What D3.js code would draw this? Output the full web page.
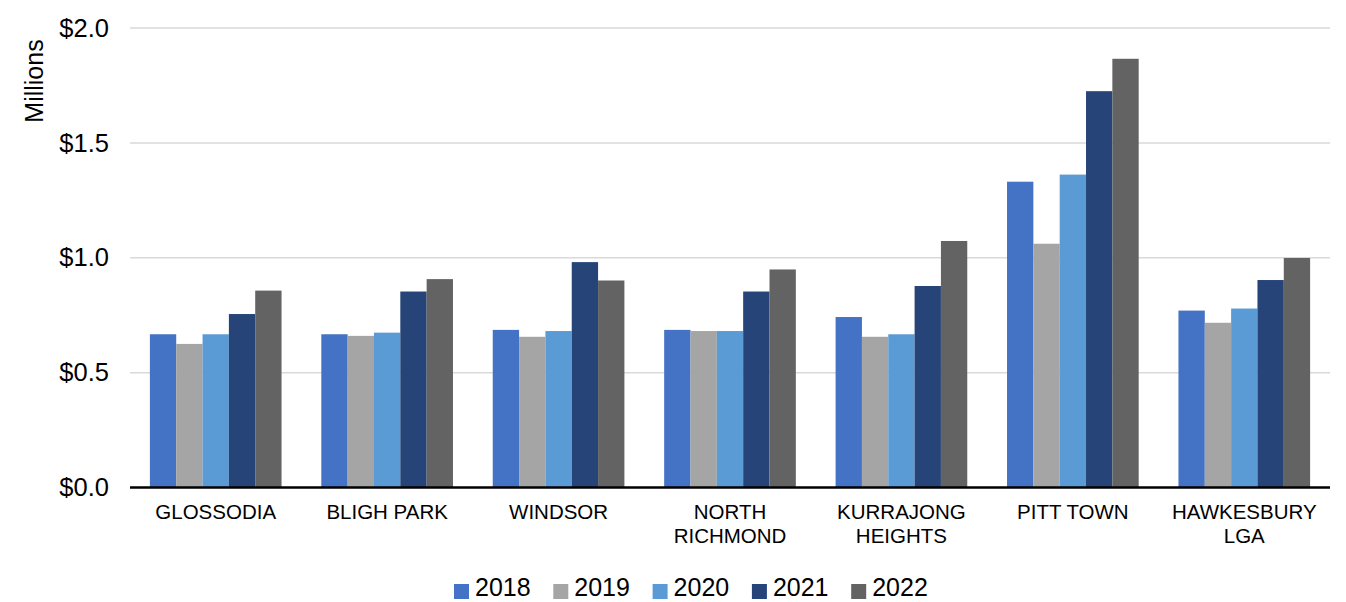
<!DOCTYPE html>
<html>
<head>
<meta charset="utf-8">
<script src="https://cdn.jsdelivr.net/npm/d3@7"></script>
<style>
  body { margin: 0; background: #fff; }
  svg { display: block; font-family: "Liberation Sans", Arial, sans-serif; }
</style>
</head>
<body>
<svg id="chart"></svg>
<script>
// suburbs along the x axis (lines split where the label wraps)
const suburbs = ["GLOSSODIA", "BLIGH PARK", "WINDSOR", "NORTH RICHMOND", "KURRAJONG HEIGHTS", "PITT TOWN", "HAWKESBURY LGA"];
const suburbLines = [["GLOSSODIA"], ["BLIGH PARK"], ["WINDSOR"], ["NORTH", "RICHMOND"], ["KURRAJONG", "HEIGHTS"], ["PITT TOWN"], ["HAWKESBURY", "LGA"]];
const years = ["2018", "2019", "2020", "2021", "2022"];

// median values in $ millions, one array per year
const v2018 = [0.667, 0.667, 0.686, 0.686, 0.742, 1.331, 0.770];
const v2019 = [0.625, 0.660, 0.656, 0.681, 0.656, 1.061, 0.717];
const v2020 = [0.667, 0.674, 0.681, 0.681, 0.667, 1.362, 0.779];
const v2021 = [0.755, 0.853, 0.981, 0.853, 0.877, 1.725, 0.903];
const v2022 = [0.857, 0.907, 0.901, 0.949, 1.073, 1.866, 0.999];

const yTicks = [0, 0.5, 1.0, 1.5, 2.0];
const colors = ["#4472C4", "#A5A5A5", "#5B9BD5", "#264478", "#636363"];

const series = [v2018, v2019, v2020, v2021, v2022];
const data = suburbs.map((s, i) => ({ name: s, lines: suburbLines[i], values: series.map(a => a[i]) }));

const width = 1346, height = 602;
const margin = { top: 28, right: 16, bottom: 115, left: 130 };

const svg = d3.select("#chart").attr("width", width).attr("height", height);

const x0 = d3.scaleBand()
  .domain(suburbs)
  .range([margin.left, width - margin.right])
  .paddingInner(0.232)
  .paddingOuter(0.116);

const x1 = d3.scaleBand()
  .domain(years)
  .range([0, x0.bandwidth()]);

const y = d3.scaleLinear()
  .domain([0, 2])
  .range([height - margin.bottom + 0.5, margin.top]);

// gridlines
svg.append("g")
  .selectAll("line")
  .data(yTicks.filter(d => d > 0))
  .join("line")
  .attr("x1", margin.left)
  .attr("x2", width - margin.right)
  .attr("y1", d => y(d))
  .attr("y2", d => y(d))
  .attr("stroke", "#d9d9d9")
  .attr("stroke-width", 1.5);

// y axis labels
const yAxis = d3.axisLeft(y).tickValues(yTicks).tickFormat(d => "$" + d3.format(".1f")(d)).tickSize(0).tickPadding(21);
svg.append("g")
  .attr("transform", `translate(${margin.left},0)`)
  .call(yAxis)
  .call(g => g.select(".domain").remove())
  .call(g => g.selectAll("text").attr("font-size", 25.5).attr("fill", "#000").attr("font-family", "Liberation Sans, Arial, sans-serif"));

svg.append("text")
  .attr("transform", `translate(43,81) rotate(-90)`)
  .attr("text-anchor", "middle")
  .attr("font-size", 25)
  .text("Millions");

// bars
const groups = svg.append("g")
  .selectAll("g")
  .data(data)
  .join("g")
  .attr("transform", d => `translate(${x0(d.name)},0)`);

groups.selectAll("rect")
  .data(d => d.values.map((v, i) => ({ year: years[i], value: v })))
  .join("rect")
  .attr("x", d => x1(d.year))
  .attr("y", d => y(d.value))
  .attr("width", x1.bandwidth())
  .attr("height", d => y(0) - y(d.value))
  .attr("fill", (d, i) => colors[i]);

// baseline
svg.append("line")
  .attr("x1", margin.left)
  .attr("x2", width - margin.right)
  .attr("y1", y(0))
  .attr("y2", y(0))
  .attr("stroke", "#000")
  .attr("stroke-width", 2.5);

// category labels
const cat = svg.append("g")
  .selectAll("text")
  .data(data)
  .join("text")
  .attr("x", d => x0(d.name) + x0.bandwidth() / 2)
  .attr("y", 519)
  .attr("text-anchor", "middle")
  .attr("font-size", 20.5)
  .attr("fill", "#000");
cat.selectAll("tspan")
  .data(d => d.lines)
  .join("tspan")
  .attr("x", function () { return d3.select(this.parentNode).attr("x"); })
  .attr("dy", (d, i) => i === 0 ? 0 : 23.5)
  .text(d => d);

// legend
const legend = svg.append("g")
  .selectAll("g")
  .data(years)
  .join("g")
  .attr("transform", (d, i) => `translate(${454 + i * 99.3},0)`);
legend.append("rect")
  .attr("x", 0)
  .attr("y", 584)
  .attr("width", 15)
  .attr("height", 15)
  .attr("fill", (d, i) => colors[i]);
legend.append("text")
  .attr("x", 21)
  .attr("y", 596)
  .attr("font-size", 25)
  .text(d => d);
</script>
</body>
</html>
